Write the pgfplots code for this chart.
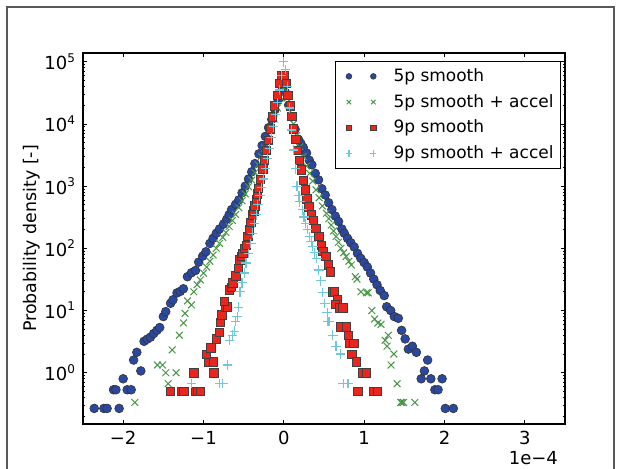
\documentclass[border=0pt]{standalone}
\usepackage{fontspec}
\setmainfont{DejaVu Sans}
\usepackage{pgfplots}
\pgfplotsset{compat=1.18}

\definecolor{blueA}{RGB}{42,72,160}
\definecolor{greenA}{RGB}{70,150,70}
\definecolor{redA}{RGB}{232,38,30}
\definecolor{cyanA}{RGB}{110,200,218}

\begin{document}
\begin{tikzpicture}
\path[use as bounding box] (0,0) rectangle (310.5pt,234pt);
\draw[black!65, line width=0.9pt] (3.4pt,-2pt) |- (307pt,230.6pt) -- (307pt,-2pt);

\begin{axis}[
  at={(41.5pt,22pt)}, anchor=south west,
  width=241pt, height=185.5pt, scale only axis,
  clip mode=individual,
  xmin=-2.5, xmax=3.5,
  ymode=log, ymin=0.15, ymax=1.38e5,
  xtick={-2,-1,0,1,2,3},
  xticklabels={−2,−1,0,1,2,3},
  ytick={1,10,100,1000,10000,100000},
  yticklabels={10\textsuperscript{0},10\textsuperscript{1},10\textsuperscript{2},10\textsuperscript{3},10\textsuperscript{4},10\textsuperscript{5}},
  minor ytick={0.2,0.3,0.4,0.5,0.6,0.7,0.8,0.9,2,3,4,5,6,7,8,9,20,30,40,50,60,70,80,90,200,300,400,500,600,700,800,900,2000,3000,4000,5000,6000,7000,8000,9000,20000,30000,40000,50000,60000,70000,80000,90000},
  tick align=inside,
  major tick length=2.2pt, minor tick length=1.1pt,
  tick style={black, line width=0.4pt},
  axis line style={line width=0.6pt},
  tick label style={font=\fontsize{9pt}{11pt}\selectfont},
  ylabel={Probability density [-]},
  every axis y label/.style={at={(axis description cs:-0.106,0.5)}, rotate=90, anchor=center, font=\fontsize{8.7pt}{11pt}\selectfont},
  legend style={at={(0.992,0.979)}, anchor=north east, draw=black, line width=0.6pt,
    font=\fontsize{8.5pt}{10pt}\selectfont, row sep=0.9pt, inner sep=1.5pt},
  legend cell align=left,
  legend image code/.code={%
    \draw[/tikz/every mark/.append style={scale=0.65}] plot coordinates {(0pt,0pt) (12.2pt,0pt)};
    \path (-5pt,0pt) (20pt,0pt);},
]

% 5p smooth
\addplot[color=black!80, only marks, mark=*, mark size=2.2pt, mark options={fill=blueA, line width=0.3pt}]
coordinates {
(-2.36,0.267) (-2.24,0.267) (-2.20,0.267) (-2.05,0.267)
(-2.12,0.533) (-2.09,0.533) (-1.95,0.533) (-1.90,0.533)
(-2.00,0.8) (-1.78,1.07) (-1.87,1.6) (-1.83,2.13)
(-1.74,3.2) (-1.70,3.47) (-1.66,3.73) (-1.62,4.27) (-1.58,4.8) (-1.545,5.33)
(-1.50,8.0) (-1.47,9.6) (-1.41,13.1) (-1.38,14.9)
(-1.33,19.2) (-1.29,20.3) (-1.25,22.4)
(-1.20,35) (-1.15,40.5) (-1.10,44)
(-1.06,60) (-1.01,75) (-0.97,88)
(-0.92,120) (-0.88,145) (-0.84,175) (-0.80,205) (-0.75,246) (-0.71,294) (-0.68,350)
(-0.65,420) (-0.60,510) (-0.56,600) (-0.52,780) (-0.48,1000) (-0.44,1300) (-0.40,1700)
(-0.36,2300) (-0.31,3300) (-0.27,4500) (-0.23,6300) (-0.19,8700) (-0.15,11800)
(-0.11,17000) (-0.07,24000) (-0.03,33000)
(0.02,32000) (0.06,20000) (0.10,13000) (0.14,8200) (0.183,5600) (0.21,4900) (0.242,4200)
(0.283,3400) (0.317,2600) (0.349,2200) (0.391,1600) (0.432,1260) (0.473,910) (0.516,720)
(0.557,540) (0.598,420) (0.64,330) (0.681,270) (0.722,205) (0.752,175) (0.793,145)
(0.834,123) (0.876,105) (0.917,83) (0.958,69) (1.0,59) (1.04,50) (1.08,40) (1.12,32)
(1.16,26) (1.20,21) (1.25,17.4)
(1.28,11.5) (1.33,10) (1.375,8) (1.425,7.5) (1.466,4.8) (1.51,3.5) (1.55,2.4) (1.60,2.67)
(1.65,2.13) (1.71,0.8) (1.75,1.07) (1.79,1.6) (1.83,0.8) (1.88,0.533) (1.92,0.533)
(1.97,0.8) (2.01,0.267) (2.11,0.267)
};
\addlegendentry{5p smooth}

% 5p smooth + accel
\addplot[color=greenA, only marks, mark=x, mark size=2.4pt, mark options={line width=0.5pt}]
coordinates {
(-1.855,0.333) (-1.44,0.667) (-1.47,1.0) (-1.34,1.0) (-1.575,1.333) (-1.51,1.333)
(-1.39,2.33) (-1.30,4.0) (-1.25,6.33) (-1.23,9.0) (-1.20,14.3) (-1.15,12.3)
(-1.12,20) (-1.08,26) (-1.04,31) (-1.00,40) (-0.96,50) (-0.92,62) (-0.88,78)
(-0.84,100) (-0.80,120) (-0.76,150) (-0.72,180) (-0.68,225) (-0.64,280) (-0.60,350)
(-0.56,450) (-0.52,580) (-0.48,750) (-0.44,980) (-0.40,1250) (-0.36,1650) (-0.32,2200)
(-0.28,3000) (-0.24,4100) (-0.20,5700) (-0.16,8000) (-0.12,12000) (-0.08,18000)
(-0.04,27000) (0.0,38000)
(0.04,26000) (0.08,16000) (0.12,10000) (0.16,6500) (0.20,4300) (0.24,3000) (0.28,2100)
(0.32,1600) (0.36,1200) (0.40,870) (0.44,650) (0.48,480) (0.53,365) (0.56,300)
(0.59,237) (0.62,190) (0.65,155) (0.68,125) (0.71,100) (0.745,85) (0.775,74) (0.81,62)
(0.84,54) (0.89,35) (0.91,32) (0.96,20) (1.03,19.3) (1.05,19.3) (1.095,10)
(1.13,7.3) (1.17,6.3) (1.21,6.0) (1.30,4.0) (1.26,3.33) (1.285,2.67) (1.37,2.0)
(1.335,1.33) (1.41,0.667) (1.455,0.333) (1.47,0.333) (1.49,0.333) (1.63,0.333)
};
\addlegendentry{5p smooth + accel}

% 9p smooth
\addplot[color=black!75, only marks, mark=square*, mark size=2.1pt, mark options={fill=redA, line width=0.3pt}]
coordinates {
(-1.41,0.5) (-1.27,0.5) (-1.245,0.5) (-1.10,0.5) (-1.07,0.5) (-1.04,0.5)
(-1.12,1.0) (-0.87,1.0) (-0.935,1.5) (-0.88,1.5) (-0.965,2.0) (-0.91,2.5)
(-0.84,3.5) (-0.80,4.5) (-0.79,6.5) (-0.77,8.5) (-0.73,11.5) (-0.70,11.5) (-0.74,14)
(-0.68,21.5) (-0.655,23.5) (-0.635,28) (-0.60,36) (-0.57,48) (-0.55,65) (-0.53,74)
(-0.51,83) (-0.49,100) (-0.47,113) (-0.45,155) (-0.43,198) (-0.41,260) (-0.39,345)
(-0.375,400) (-0.36,480) (-0.345,600) (-0.33,750) (-0.315,920) (-0.29,1300)
(-0.26,1900) (-0.24,2600) (-0.22,3800) (-0.19,5500) (-0.165,8400) (-0.14,13000)
(-0.12,19500) (-0.085,29000) (-0.055,45000) (-0.03,61000)
(0.005,61000) (0.03,45000) (0.05,29000) (0.08,19500) (0.10,13200) (0.12,8400)
(0.15,5600) (0.17,3800) (0.19,2600) (0.215,1820) (0.24,1250) (0.265,870) (0.285,630)
(0.31,465) (0.34,345) (0.37,285) (0.40,210) (0.435,155) (0.465,113) (0.485,89)
(0.52,74) (0.55,54) (0.58,42) (0.60,20) (0.625,20) (0.665,15) (0.64,12.5) (0.69,11)
(0.735,11) (0.71,5.5) (0.775,5.5) (0.80,4.0) (0.82,3.0) (0.87,3.0) (0.845,2.0)
(0.90,1.5) (0.985,1.0) (1.03,1.0) (0.92,0.5) (1.11,0.5) (1.16,0.5)
};
\addlegendentry{9p smooth}

% 9p smooth + accel
\addplot[color=cyanA, only marks, mark=+, mark size=2.4pt, mark options={line width=0.6pt}]
coordinates {
(-1.15,0.667) (-0.80,0.667) (-0.76,0.667) (-0.70,1.33) (-0.675,3.33) (-0.64,4.0)
(-0.615,4.67) (-0.60,6.67) (-0.58,8.0) (-0.565,11.3) (-0.545,20) (-0.52,28) (-0.49,40)
(-0.47,58) (-0.44,83) (-0.41,120) (-0.39,175) (-0.365,250) (-0.345,345) (-0.325,500)
(-0.30,700) (-0.28,950) (-0.255,1300) (-0.23,1900) (-0.205,2800) (-0.18,4000)
(-0.155,6000) (-0.13,9000) (-0.105,14000) (-0.08,22000) (-0.055,35000) (-0.03,60000)
(-0.005,100000)
(0.02,75000) (0.045,40000) (0.07,18000) (0.095,8000) (0.12,3800) (0.145,1900)
(0.165,1000) (0.19,700) (0.20,560) (0.23,415) (0.25,320) (0.27,250) (0.295,200)
(0.32,155) (0.34,130) (0.36,107) (0.385,85) (0.41,69) (0.435,45) (0.46,30) (0.485,19.5)
(0.51,13) (0.54,9.3) (0.55,6.7) (0.57,6.7) (0.61,4.0) (0.65,2.67) (0.705,2.0)
(0.74,0.667) (0.80,0.667)
};
\addlegendentry{9p smooth + accel}

\node[anchor=east, font=\fontsize{9pt}{11pt}\selectfont] at (rel axis cs:1,0) [yshift=-17pt] {1e−4};
\end{axis}
\end{tikzpicture}
\end{document}
